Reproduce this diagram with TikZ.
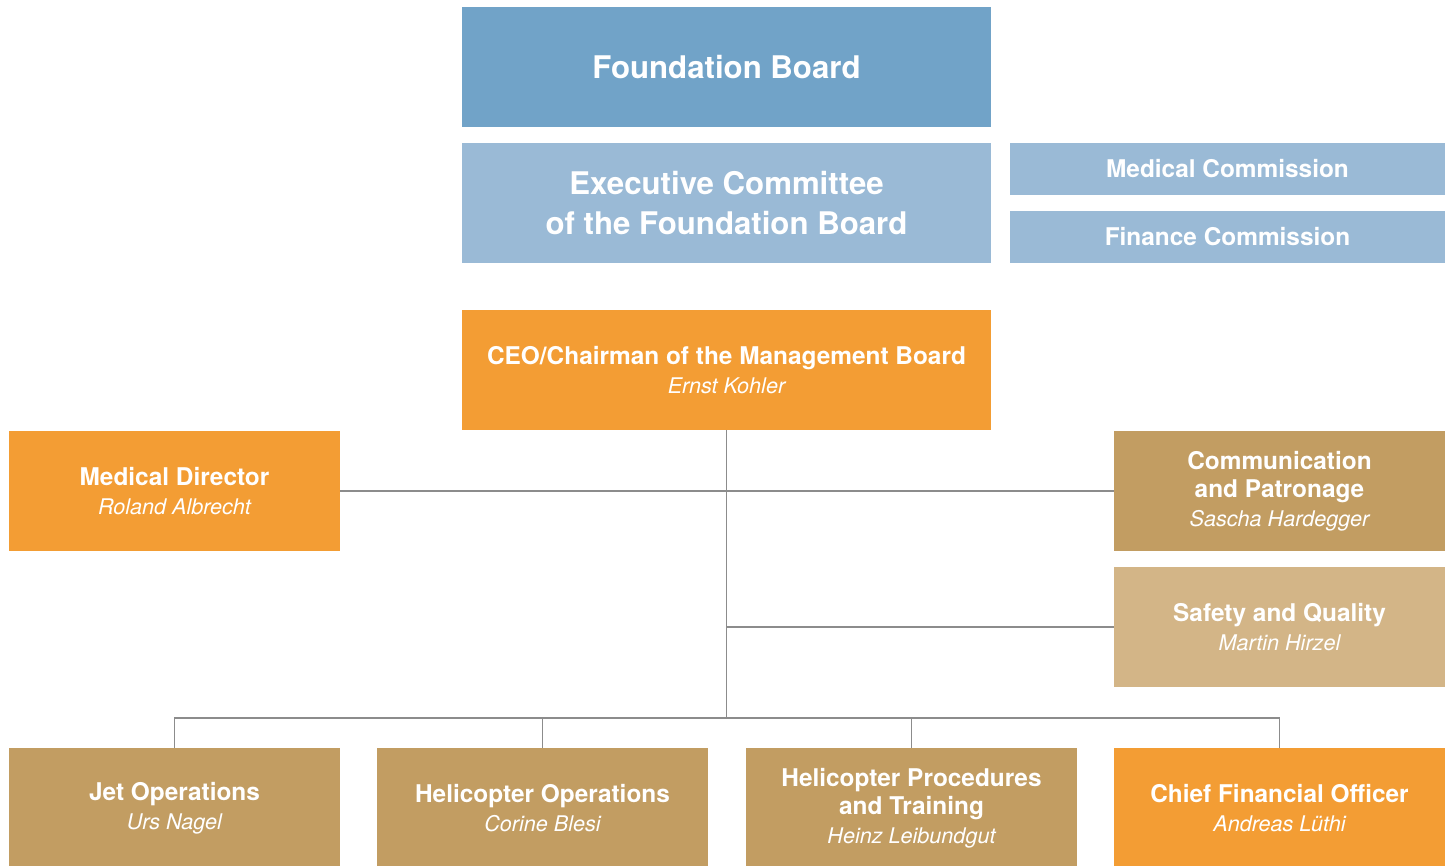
\documentclass[tikz,border=0pt]{standalone}
\usepackage{fontspec}
\setmainfont{TeX Gyre Heros}
\definecolor{boardblue}{HTML}{71A3C8}
\definecolor{paleblue}{HTML}{9ABAD6}
\definecolor{mgmtorange}{HTML}{F39D34}
\definecolor{unitgold}{HTML}{C29D62}
\definecolor{palegold}{HTML}{D3B587}
\definecolor{linegray}{HTML}{8C8C8C}
\tikzset{
  unit/.style={rectangle, inner sep=0pt, text=white, align=center,
    minimum width=165.5pt, minimum height=60pt, font=\fontsize{12.2}{14}\selectfont\bfseries},
  board/.style={unit, minimum width=264.5pt, font=\fontsize{15.6}{20}\selectfont\bfseries},
  commission/.style={unit, minimum width=217.5pt, minimum height=26pt, fill=paleblue},
  conn/.style={draw=linegray, line width=0.75pt}
}
\newcommand{\who}[1]{\\[0.5pt]{\fontsize{10.8}{14}\selectfont\mdseries\itshape #1}}
\begin{document}
\begin{tikzpicture}[x=0.5pt, y=-0.5pt]
  \useasboundingbox (0,0) rectangle (1453,866);
  \clip (0,0) rectangle (1453,866);

  % supervisory bodies
  \node[board, fill=boardblue] (fb) at (726.5,67) {Foundation Board};
  \node[board, fill=paleblue] (ec) at (726.5,203) {Executive Committee\\of the Foundation Board};
  \node[commission] (medcom) at (1227.5,169) {Medical Commission};
  \node[commission] (fincom) at (1227.5,237) {Finance Commission};

  % management
  \node[board, fill=mgmtorange, font=\fontsize{12.2}{14}\selectfont\bfseries] (ceo) at (726.5,370)
    {CEO/Chairman of the Management Board\who{Ernst Kohler}};
  \node[unit, fill=mgmtorange] (meddir) at (174.5,491) {Medical Director\who{Roland Albrecht}};
  \node[unit, fill=unitgold] (comm) at (1279.5,491) {Communication\\and Patronage\who{Sascha Hardegger}};
  \node[unit, fill=palegold] (safety) at (1279.5,627) {Safety and Quality\who{Martin Hirzel}};

  % departments
  \node[unit, fill=unitgold] (jet) at (174.5,808) {Jet Operations\who{Urs Nagel}};
  \node[unit, fill=unitgold] (heliops) at (542.5,808) {Helicopter Operations\who{Corine Blesi}};
  \node[unit, fill=unitgold] (heliproc) at (911.5,808) {Helicopter Procedures\\and Training\who{Heinz Leibundgut}};
  \node[unit, fill=mgmtorange] (cfo) at (1279.5,808) {Chief Financial Officer\who{Andreas Lüthi}};

  % lines
  \coordinate (bus) at (726.5,718);
  \draw[conn] (ceo.south) -- (bus);
  \draw[conn] (meddir.east) -- (comm.west);
  \draw[conn] (ceo.south |- safety.west) -- (safety.west);
  \draw[conn] (jet.north) |- (bus) -| (cfo.north);
  \draw[conn] (heliops.north) -- (heliops.north |- bus);
  \draw[conn] (heliproc.north) -- (heliproc.north |- bus);
\end{tikzpicture}
\end{document}
